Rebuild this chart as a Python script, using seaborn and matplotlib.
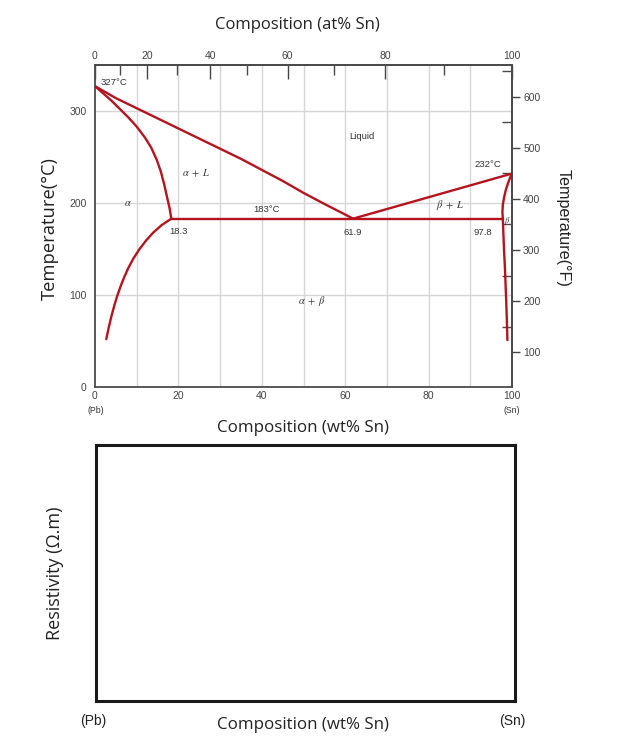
import numpy as np
import pandas as pd
import matplotlib
matplotlib.use("Agg")
import matplotlib.pyplot as plt
import seaborn as sns

# ---------------- data ----------------
liq_left_wt = [0, 5, 10, 15, 20, 25, 30, 35, 40, 45, 50, 55, 61.9]
liq_left_T = [327, 314, 303, 292, 281, 270, 259, 248, 236, 224, 211, 199, 183]

sol_alpha_wt = [0, 2, 4, 6, 8, 10, 12, 13.5, 14.8, 15.8, 16.6, 17.3, 17.9, 18.3]
sol_alpha_T = [327, 319, 311, 302, 293, 283, 271, 260, 247, 234, 220, 206, 194, 183]

solv_alpha_wt = [18.3, 16.0, 14.0, 12.2, 10.6, 9.2, 8.0, 7.0, 6.1, 5.3,
                 4.6, 3.9, 3.3, 2.7]
solv_alpha_T = [183, 176, 168, 159, 149.4, 139.6, 129.4, 119.4, 109, 98.6,
                88.1, 76.2, 64.8, 52]

liq_right_wt = [61.9, 100]
liq_right_T = [183, 232]

eutectic_wt = [18.3, 97.8]
eutectic_T = [183, 183]

sol_beta_wt = [100, 99.5, 99.0, 98.5, 98.1, 97.8, 97.7, 97.8]
sol_beta_T = [232, 227, 221, 214, 206, 198, 190, 183]

solv_beta_wt = [97.8, 97.95, 98.1, 98.3, 98.45, 98.6, 98.75, 98.9]
solv_beta_T = [183, 165, 148, 130, 112, 95, 75, 51]

wt_ticks = [0, 20, 40, 60, 80, 100]
at_ticks = [0, 20, 40, 60, 80, 100]
C_ticks = [0, 100, 200, 300]
F_ticks = [100, 200, 300, 400, 500, 600]

annotations = [
    ("327°C", 1.4, 331, "left"),
    ("232°C", 94.2, 242, "center"),
    ("183°C", 41.2, 193, "center"),
    ("18.3", 20.1, 169, "center"),
    ("61.9", 61.8, 168, "center"),
    ("97.8", 93.1, 168, "center"),
    ("Liquid", 64.0, 272, "center"),
]
phase_labels = [
    (r"$\alpha\ +\ L$", 24.4, 232),
    (r"$\alpha$", 7.9, 200),
    (r"$\beta\ +\ L$", 85.3, 198),
    (r"$\alpha\ +\ \beta$", 52.0, 94),
]

M_SN, M_PB = 118.71, 207.2

def wt2at(w):
    w = np.clip(np.asarray(w, dtype=float), 0, 100)
    a = w / M_SN
    b = (100 - w) / M_PB
    return 100 * a / np.maximum(a + b, 1e-12)

def at2wt(a):
    a = np.clip(np.asarray(a, dtype=float), 0, 100)
    x = a * M_SN
    y = (100 - a) * M_PB
    return 100 * x / np.maximum(x + y, 1e-12)

def c2f(c):
    return np.asarray(c, dtype=float) * 9 / 5 + 32

def f2c(f):
    return (np.asarray(f, dtype=float) - 32) * 5 / 9

# ---------------- style ----------------
sns.set_theme(style="white")
plt.rcParams["font.family"] = ["Liberation Sans", "DejaVu Sans"]
plt.rcParams["mathtext.fontset"] = "stix"

RED = "#b5141f"
SPINE = "#4a4a4a"
GRID = "#d6d6d6"
TICKC = "#444444"

W, H = 622, 756
fig = plt.figure(figsize=(W / 100, H / 100), dpi=100)

def fx(px):
    return px / W

def fy(py):
    return 1 - py / H

# ---------------- top: phase diagram ----------------
ax = fig.add_axes([fx(95), fy(387), fx(512) - fx(95), fy(65) - fy(387)])
ax.set_xlim(0, 100)
ax.set_ylim(0, 350)

for xv in range(10, 100, 10):
    ax.axvline(xv, color=GRID, lw=1.0, zorder=0)
for yv in [100, 200, 300]:
    ax.axhline(yv, color=GRID, lw=1.0, zorder=0)

curves = [
    (liq_left_wt, liq_left_T),
    (sol_alpha_wt, sol_alpha_T),
    (solv_alpha_wt, solv_alpha_T),
    (liq_right_wt, liq_right_T),
    (eutectic_wt, eutectic_T),
    (sol_beta_wt, sol_beta_T),
    (solv_beta_wt, solv_beta_T),
]
for xs, ys in curves:
    sns.lineplot(x=xs, y=ys, ax=ax, sort=False, estimator=None,
                 color=RED, lw=1.7, zorder=3)
for line in ax.get_lines():
    line.set_solid_joinstyle("round")
    line.set_solid_capstyle("round")

for s in ax.spines.values():
    s.set_color(SPINE)
    s.set_linewidth(1.3)

# bottom / left ticks
ax.set_xticks(wt_ticks)
ax.set_xticks(list(range(10, 100, 10)), minor=True)
ax.set_yticks(C_ticks)
ax.set_yticks([50, 150, 250], minor=True)
ax.tick_params(axis="x", which="major", direction="in", length=0, pad=3,
               labelsize=7.5, colors=TICKC)
ax.tick_params(axis="x", which="minor", direction="in", length=7,
               width=1.0, color=SPINE)
ax.tick_params(axis="y", which="major", direction="out", length=4, pad=2,
               labelsize=7.5, colors=TICKC, width=1.0)
ax.tick_params(axis="y", which="minor", direction="in", length=7,
               width=1.0, color=SPINE)
ax.set_xlabel("")
ax.set_ylabel("")

# top secondary axis (at%)
secx = ax.secondary_xaxis("top", functions=(wt2at, at2wt))
secx.set_xticks(at_ticks)
secx.set_xticks([10, 30, 50, 70, 90], minor=True)
secx.tick_params(which="major", direction="in", length=10, width=1.0,
                 labelsize=7.5, colors=TICKC, pad=3)
secx.tick_params(which="minor", direction="in", length=7, width=1.0,
                 color=SPINE)
secx.spines["top"].set_color(SPINE)
secx.spines["top"].set_linewidth(1.3)

# right secondary axis (°F)
secy = ax.secondary_yaxis("right", functions=(c2f, f2c))
secy.set_yticks(F_ticks)
secy.set_yticks([150, 250, 350, 450, 550, 650], minor=True)
secy.tick_params(which="major", direction="out", length=6, width=1.0,
                 labelsize=7.5, colors=TICKC, pad=2)
secy.tick_params(which="minor", direction="in", length=7, width=1.0,
                 color=SPINE)
secy.spines["right"].set_color(SPINE)
secy.spines["right"].set_linewidth(1.3)

for txt, xv, yv, ha in annotations:
    ax.text(xv, yv, txt, ha=ha, va="center", fontsize=6.8, color="#333333",
            zorder=4)
for txt, xv, yv in phase_labels:
    ax.text(xv, yv, txt, ha="center", va="center", fontsize=7.5,
            color="#333333", zorder=4)
ax.text(98.9, 180, r"$\beta$", ha="center", va="center", fontsize=6,
        color="#333333", zorder=4)

OPEN = ["Open Sans", "DejaVu Sans"]
fig.text(fx(297), fy(25), "Composition (at% Sn)", ha="center", va="center",
         fontsize=12, family=OPEN, color="#222222")
fig.text(fx(50), fy(229), "Temperature(°C)", ha="center", va="center",
         rotation=90, fontsize=13.2, family=OPEN, color="#222222")
fig.text(fx(563), fy(228), "Temperature(°F)", ha="center", va="center",
         rotation=270, fontsize=11.6, color="#222222")
fig.text(fx(303), fy(428), "Composition (wt% Sn)", ha="center", va="center",
         fontsize=12.2, family=OPEN, color="#222222")
fig.text(fx(96), fy(411), "(Pb)", ha="center", va="center", fontsize=6.3,
         color="#333333")
fig.text(fx(512), fy(411), "(Sn)", ha="center", va="center", fontsize=6.3,
         color="#333333")

# ---------------- bottom: empty resistivity box ----------------
ax2 = fig.add_axes([fx(96), fy(701), fx(515) - fx(96), fy(445) - fy(701)])
ax2.set_xlim(0, 100)
ax2.set_ylim(0, 1)
ax2.set_xticks([])
ax2.set_yticks([])
for s in ax2.spines.values():
    s.set_color("#1a1a1a")
    s.set_linewidth(2.2)

fig.text(fx(55), fy(573), "Resistivity (Ω.m)", ha="center", va="center",
         rotation=90, fontsize=13, family=OPEN, color="#222222")
fig.text(fx(303), fy(725), "Composition (wt% Sn)", ha="center", va="center",
         fontsize=12.2, family=OPEN, color="#222222")
fig.text(fx(93), fy(721), "(Pb)", ha="center", va="center", fontsize=10,
         color="#222222")
fig.text(fx(512), fy(721), "(Sn)", ha="center", va="center", fontsize=10,
         color="#222222")

fig.savefig("out.png", dpi=100, facecolor="white")
